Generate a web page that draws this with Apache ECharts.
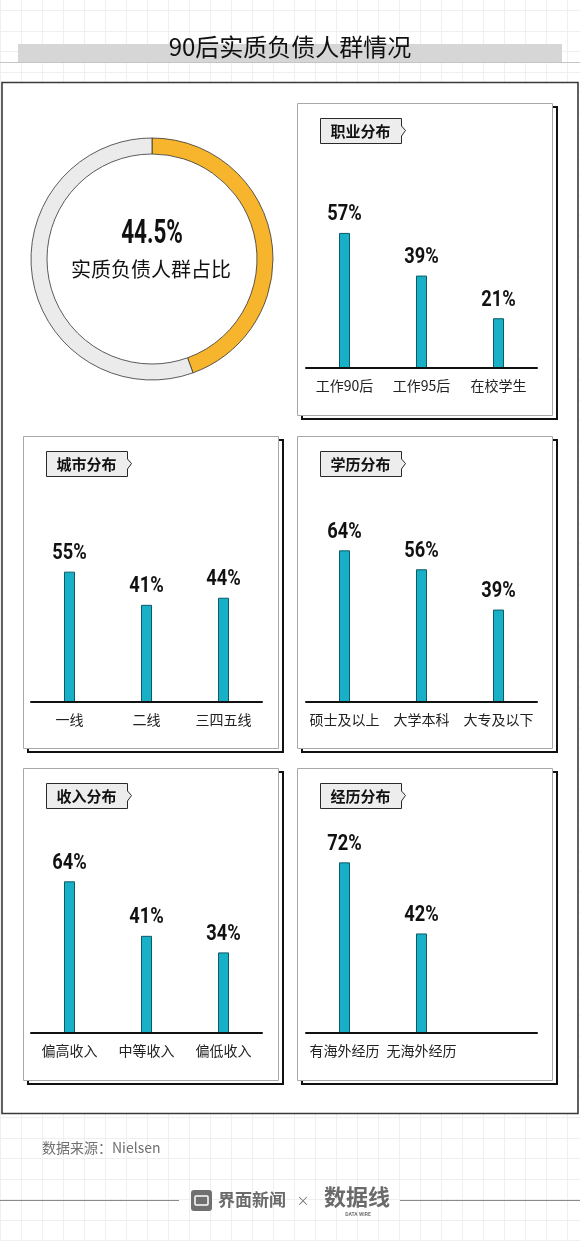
<!DOCTYPE html>
<html>
<head>
<meta charset="utf-8">
<script src="https://cdn.jsdelivr.net/npm/echarts@6/dist/echarts.min.js"></script>
<style>
html,body{margin:0;padding:0;background:#fff;}
#c{width:580px;height:1241px;}
</style>
</head>
<body>
<div id="c"></div>
<script>
// ---- data ----
const titleText = '90后实质负债人群情况';
const donutValue = 44.5;
const donutLabel = '实质负债人群占比';
const panelTitles = ['职业分布', '城市分布', '学历分布', '收入分布', '经历分布'];
const jobCats = ['工作90后', '工作95后', '在校学生'];
const jobVals = [57, 39, 21];
const cityCats = ['一线', '二线', '三四五线'];
const cityVals = [55, 41, 44];
const eduCats = ['硕士及以上', '大学本科', '大专及以下'];
const eduVals = [64, 56, 39];
const incCats = ['偏高收入', '中等收入', '偏低收入'];
const incVals = [64, 41, 34];
const expCats = ['有海外经历', '无海外经历', ''];
const expVals = [72, 42];
const sourceText = '数据来源：Nielsen';

const CJK = '"Noto Sans CJK SC", "Noto Sans", sans-serif';
const NUM = 'Roboto, "Liberation Sans", sans-serif';

const chart = echarts.init(document.getElementById('c'), null, {renderer: 'canvas'});

const panels = [
  {x: 297, y: 103, axisY: 368, left: 306, cats: jobCats, vals: jobVals},
  {x: 23,  y: 436, axisY: 702, left: 31,  cats: cityCats, vals: cityVals},
  {x: 297, y: 436, axisY: 702, left: 306, cats: eduCats, vals: eduVals},
  {x: 23,  y: 768, axisY: 1033, left: 31, cats: incCats, vals: incVals},
  {x: 297, y: 768, axisY: 1033, left: 306, cats: expCats, vals: expVals}
];
const PW = 255, PH = 312, GH = 237, GW = 231;

const graphic = [];
// background grid
for (let x = 0; x <= 580; x += 21) {
  graphic.push({type: 'line', z: 0, silent: true, shape: {x1: x + 0.5, y1: 0, x2: x + 0.5, y2: 1241}, style: {stroke: '#efefef', lineWidth: 1}});
}
for (let y = 10; y <= 1241; y += 20.5) {
  graphic.push({type: 'line', z: 0, silent: true, shape: {x1: 0, y1: Math.round(y) + 0.5, x2: 580, y2: Math.round(y) + 0.5}, style: {stroke: '#efefef', lineWidth: 1}});
}
// title band
graphic.push({type: 'rect', z: 1, silent: true, shape: {x: 18, y: 44, width: 544, height: 18}, style: {fill: '#d6d6d6'}});
graphic.push({type: 'line', z: 1, silent: true, shape: {x1: 0, y1: 62.5, x2: 580, y2: 62.5}, style: {stroke: '#c4c4c4', lineWidth: 1}});
graphic.push({type: 'text', z: 5, silent: true, x: 290, y: 47, style: {text: titleText, font: '24px ' + CJK, fill: '#111', align: 'center', verticalAlign: 'middle'}});
// main frame
graphic.push({type: 'rect', z: 1, silent: true, shape: {x: 2, y: 82.5, width: 576, height: 1031}, style: {fill: '#fff', stroke: '#3a3a3a', lineWidth: 1.6}});

// panels
panels.forEach((p, i) => {
  graphic.push({type: 'rect', z: 1, silent: true, shape: {x: p.x + 5, y: p.y + 4, width: PW, height: PH}, style: {fill: '#fff', stroke: '#111', lineWidth: 2}});
  graphic.push({type: 'rect', z: 1, silent: true, shape: {x: p.x + 0.5, y: p.y + 0.5, width: PW, height: PH}, style: {fill: '#fff', stroke: '#a8a8a8', lineWidth: 1}});
  const tx = p.x + 23, ty = p.y + 15, tw = 81, th = 25;
  graphic.push({type: 'polygon', z: 3, silent: true, shape: {points: [
    [tx + 0.5, ty + 0.5], [tx + tw + 0.5, ty + 0.5], [tx + tw + 0.5, ty + 8], [tx + tw + 4.5, ty + th / 2],
    [tx + tw + 0.5, ty + th - 7], [tx + tw + 0.5, ty + th + 0.5], [tx + 0.5, ty + th + 0.5]
  ]}, style: {fill: '#ededed', stroke: '#2a2a2a', lineWidth: 1}});
  graphic.push({type: 'text', z: 4, silent: true, x: tx + tw / 2, y: ty + th / 2 + 1, style: {text: panelTitles[i], font: 'bold 15px ' + CJK, fill: '#111', align: 'center', verticalAlign: 'middle'}});
});

// donut center text
graphic.push({type: 'text', z: 5, silent: true, x: 152, y: 234, scaleX: 0.66, style: {text: donutValue + '%', font: 'bold 34px ' + NUM, fill: '#111', align: 'center', verticalAlign: 'middle'}});
graphic.push({type: 'text', z: 5, silent: true, x: 151, y: 269, style: {text: donutLabel, font: '20px ' + CJK, fill: '#111', align: 'center', verticalAlign: 'middle'}});

// footer
graphic.push({type: 'text', z: 5, silent: true, x: 42, y: 1148, style: {text: sourceText, font: '14px ' + CJK, fill: '#707070', align: 'left', verticalAlign: 'middle'}});
graphic.push({type: 'line', z: 2, silent: true, shape: {x1: 0, y1: 1200.5, x2: 179, y2: 1200.5}, style: {stroke: '#8a8a8a', lineWidth: 1}});
graphic.push({type: 'line', z: 2, silent: true, shape: {x1: 400, y1: 1200.5, x2: 580, y2: 1200.5}, style: {stroke: '#8a8a8a', lineWidth: 1}});
graphic.push({type: 'rect', z: 3, silent: true, shape: {x: 191, y: 1190, width: 21, height: 21, r: 3}, style: {fill: '#707070'}});
graphic.push({type: 'rect', z: 4, silent: true, shape: {x: 195, y: 1196, width: 13, height: 9, r: 1}, style: {fill: 'none', stroke: '#fff', lineWidth: 1.5}});
graphic.push({type: 'text', z: 4, silent: true, x: 218, y: 1200, style: {text: '界面新闻', font: 'bold 17px ' + CJK, fill: '#6a6a6a', align: 'left', verticalAlign: 'middle'}});
graphic.push({type: 'text', z: 4, silent: true, x: 303, y: 1200, style: {text: '×', font: '13px ' + CJK, fill: '#777', align: 'center', verticalAlign: 'middle'}});
graphic.push({type: 'text', z: 4, silent: true, x: 357, y: 1197, style: {text: '数据线', font: 'bold 22px ' + CJK, fill: '#6a6a6a', align: 'center', verticalAlign: 'middle'}});
graphic.push({type: 'text', z: 4, silent: true, x: 358, y: 1215, style: {text: 'DATA WIRE', font: 'bold 5px ' + NUM, fill: '#777', align: 'center', verticalAlign: 'middle'}});

const grids = [], xAxes = [], yAxes = [], series = [];
panels.forEach((p, i) => {
  grids.push({left: p.left, top: p.axisY - GH, width: GW, height: GH, containLabel: false});
  xAxes.push({
    type: 'category', gridIndex: i, data: p.cats, z: 5,
    axisLine: {show: true, onZero: false, lineStyle: {color: '#111', width: 2}},
    axisTick: {show: false},
    axisLabel: {interval: 0, margin: 11, color: '#222', fontSize: 14, fontFamily: CJK},
    splitLine: {show: false}
  });
  yAxes.push({type: 'value', gridIndex: i, min: 0, max: 100, show: false, splitLine: {show: false}});
  series.push({
    type: 'bar', xAxisIndex: i, yAxisIndex: i, data: p.vals, barWidth: 11, silent: true, z: 4,
    itemStyle: {color: '#17b0c7', borderColor: '#0e5a66', borderWidth: 1},
    label: {show: false}
  });
});

series.unshift({
  type: 'pie', center: [152, 259], radius: [105, 121], startAngle: 90, clockwise: true,
  silent: true, label: {show: false}, labelLine: {show: false}, z: 4,
  itemStyle: {borderColor: '#333', borderWidth: 0.8},
  emphasis: {disabled: true},
  data: [
    {value: donutValue, itemStyle: {color: '#f6b52c'}},
    {value: +(100 - donutValue).toFixed(1), itemStyle: {color: '#ebebeb'}}
  ]
});

chart.setOption({
  animation: false,
  backgroundColor: '#fff',
  grid: grids, xAxis: xAxes, yAxis: yAxes, series: series,
  graphic: {elements: graphic}
});

// value labels above bars, positioned through the axes' own scales
panels.forEach((p, i) => {
  p.vals.forEach((v, j) => {
    const pt = chart.convertToPixel({gridIndex: i}, [j, v]);
    graphic.push({type: 'text', z: 6, silent: true, x: pt[0], y: pt[1] - 18, scaleX: 0.83,
      style: {text: v + '%', font: 'bold 22px ' + NUM, fill: '#111', align: 'center', verticalAlign: 'middle'}});
  });
});
chart.setOption({graphic: {elements: graphic}});
</script>
</body>
</html>
